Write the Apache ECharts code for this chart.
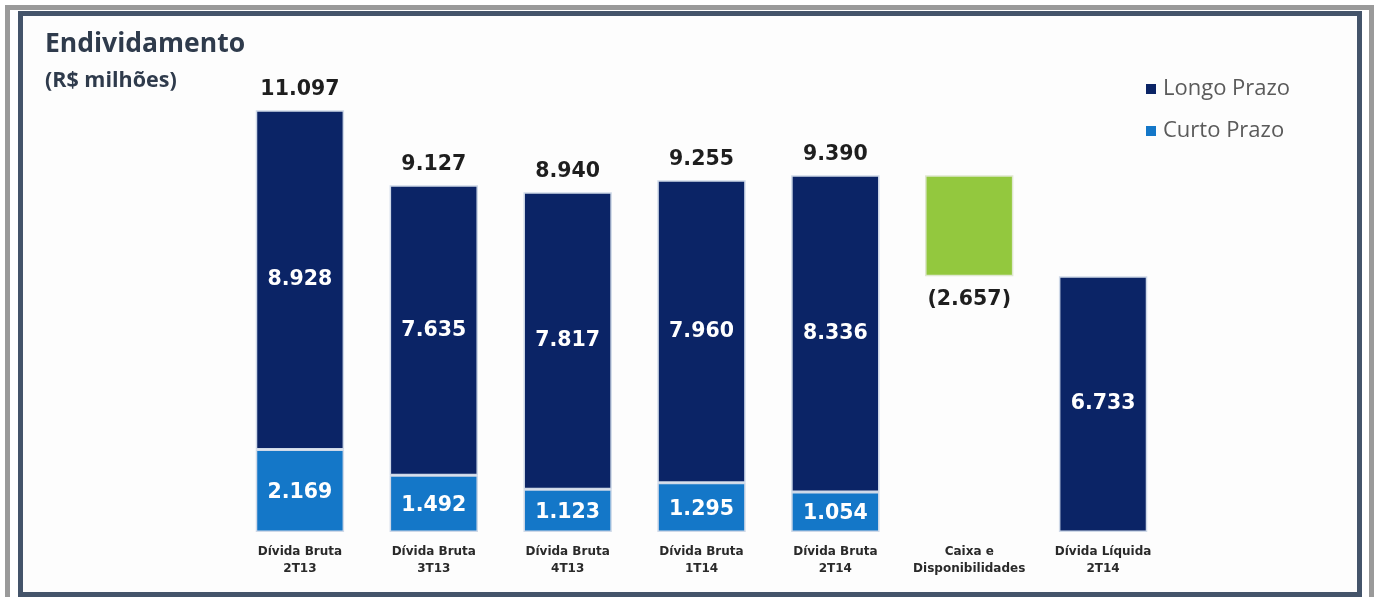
<!DOCTYPE html>
<html>
<head>
<meta charset="utf-8">
<script src="https://cdn.jsdelivr.net/npm/echarts@6/dist/echarts.min.js"></script>
<style>
  html, body { margin: 0; padding: 0; background: #ffffff; }
  #wrap { position: relative; width: 1376px; height: 597px; overflow: hidden; background: #fff; }
  #gray { position: absolute; left: 5px; top: 5px; width: 1369px; height: 600px; box-sizing: border-box;
          border-left: 5px solid #9a9a9a; border-top: 5px solid #9a9a9a; border-right: 5px solid #9a9a9a; }
  #frame { position: absolute; left: 18px; top: 11px; width: 1344px; height: 586px; box-sizing: border-box;
           border: 5px solid #44546a; background: #fdfdfd; }
  #chart { position: absolute; left: 0; top: 0; width: 1376px; height: 597px; }
</style>
</head>
<body>
<div id="wrap">
  <div id="gray"></div>
  <div id="frame"></div>
  <div id="chart"></div>
</div>
<script>
const categories = ['Dívida Bruta\n2T13', 'Dívida Bruta\n3T13', 'Dívida Bruta\n4T13', 'Dívida Bruta\n1T14', 'Dívida Bruta\n2T14', 'Caixa e\nDisponibilidades', 'Dívida Líquida\n2T14'];
const curtoPrazo = [2169, 1492, 1123, 1295, 1054, null, null];
const longoPrazo = [8928, 7635, 7817, 7960, 8336, null, 6733];
const totais = [11097, 9127, 8940, 9255, 9390, null, null];
const caixaBase = [null, null, null, null, null, 6733, null];
const caixa = [null, null, null, null, null, 2657, null];

function fmt(v) {
  return String(Math.round(v)).replace(/\B(?=(\d{3})+(?!\d))/g, '.');
}

const chart = echarts.init(document.getElementById('chart'), null, { renderer: 'canvas' });
const NAVY = '#0b2466';
const BLUE = '#1477c8';
const GREEN = '#93c83e';
const labelFont = { fontFamily: '"DejaVu Sans", sans-serif', fontWeight: 'bold', fontSize: 20.5 };

chart.setOption({
  animation: false,
  backgroundColor: 'transparent',
  title: [
    { text: 'Endividamento', left: 40, top: 26,
      textStyle: { fontFamily: '"Open Sans", sans-serif', fontWeight: 'bold', fontSize: 26.5, color: '#2f3b4c' } },
    { text: '(R$ milhões)', left: 40, top: 65,
      textStyle: { fontFamily: '"Open Sans", sans-serif', fontWeight: 'bold', fontSize: 21.5, color: '#2f3b4c' } }
  ],
  legend: {
    data: ['Longo Prazo', 'Curto Prazo'],
    orient: 'vertical', left: 1141, top: 73, itemGap: 20,
    itemWidth: 10, itemHeight: 10, icon: 'rect', itemStyle: { borderWidth: 0 },
    textStyle: { fontFamily: '"Open Sans", sans-serif', fontSize: 22, color: '#5a5a5a', padding: [0, 0, 0, 2] }
  },
  grid: { left: 233, right: 206, top: 76, bottom: 65 },
  xAxis: {
    type: 'category', data: categories,
    axisLine: { show: false }, axisTick: { show: false },
    axisLabel: { interval: 0, margin: 11, color: '#2a2a2a', fontFamily: '"DejaVu Sans", sans-serif',
                 fontWeight: 'bold', fontSize: 12, lineHeight: 17 }
  },
  yAxis: { type: 'value', min: 0, max: 12000, show: false, splitLine: { show: false } },
  series: [
    { name: 'Curto Prazo', type: 'bar', stack: 's', barWidth: '66%', data: curtoPrazo,
      itemStyle: { color: BLUE, borderColor: '#cfd9e8', borderWidth: 1.5 },
      label: { show: true, position: 'inside', color: '#ffffff', ...labelFont, offset: [0, 2],
               formatter: p => fmt(p.value) } },
    { name: 'Caixa base', type: 'bar', stack: 's', data: caixaBase,
      itemStyle: { color: 'transparent' }, emphasis: { disabled: true }, silent: true },
    { name: 'Longo Prazo', type: 'bar', stack: 's', data: longoPrazo,
      itemStyle: { color: NAVY, borderColor: '#cfd9e8', borderWidth: 1.5 },
      label: { show: true, position: 'inside', color: '#ffffff', ...labelFont,
               formatter: p => fmt(p.value) } },
    { name: 'Caixa', type: 'bar', stack: 's', data: caixa,
      itemStyle: { color: GREEN, borderColor: '#dfe8d0', borderWidth: 1.5 },
      label: { show: true, position: 'bottom', distance: 13, color: '#1e1e1e', ...labelFont,
               formatter: p => '(' + fmt(p.value) + ')' } },
    { name: 'Total', type: 'bar', stack: 's', data: totais.map(v => v == null ? null : 0),
      itemStyle: { color: 'transparent' }, silent: true,
      label: { show: true, position: 'top', distance: 10, color: '#1e1e1e', ...labelFont,
               formatter: p => totais[p.dataIndex] == null ? '' : fmt(totais[p.dataIndex]) } }
  ]
});
</script>
</body>
</html>
